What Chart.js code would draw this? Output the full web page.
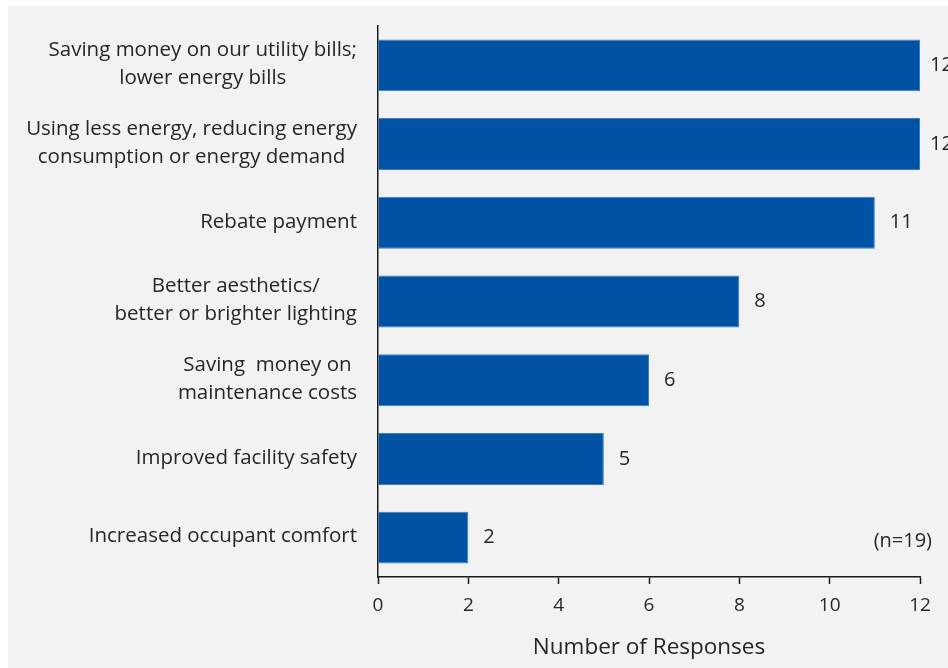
<!DOCTYPE html>
<html>
<head>
<meta charset="utf-8">
<script src="https://cdn.jsdelivr.net/npm/chart.js@4"></script>
<style>
    html, body { margin: 0; padding: 0; background: #ffffff; }
    #panel { position: absolute; left: 8px; top: 6px; right: 0; bottom: 0; background: #f2f2f2; }
    #wrap { position: absolute; left: 0; top: 0; width: 948px; height: 668px; }
</style>
</head>
<body>
<div id="panel"></div>
<div id="wrap"><canvas id="chart"></canvas></div>
<script>
const categories = [
    ['Saving money on our utility bills;', 'lower energy bills'],
    ['Using less energy, reducing energy', 'consumption or energy demand'],
    ['Rebate payment'],
    ['Better aesthetics/', 'better or brighter lighting'],
    ['Saving  money on', 'maintenance costs'],
    ['Improved facility safety'],
    ['Increased occupant comfort']
];
const responses = [12, 12, 11, 8, 6, 5, 2];
const xTicks = [0, 2, 4, 6, 8, 10, 12];
const sampleNote = '(n=19)';

const textColor = '#262626';
const fontFamily = '"Open Sans", "Liberation Sans", sans-serif';

// category labels: each line centred, the block right-aligned against the axis
const categoryLabels = {
    id: 'categoryLabels',
    afterDraw(chart) {
        const ctx = chart.ctx;
        const yScale = chart.scales.y;
        const right = chart.chartArea.left - 21;
        const lineH = 28;
        ctx.save();
        ctx.font = '20.5px ' + fontFamily;
        ctx.fillStyle = textColor;
        ctx.textAlign = 'center';
        ctx.textBaseline = 'middle';
        categories.forEach((lines, i) => {
            const widest = Math.max(...lines.map(l => ctx.measureText(l).width));
            const cx = right - widest / 2;
            const cy = yScale.getPixelForValue(i) - 1;
            const top = cy - (lines.length - 1) * lineH / 2;
            lines.forEach((l, j) => ctx.fillText(l, cx, top + j * lineH));
        });
        ctx.restore();
    }
};

// value at the end of each bar (pulled in near the right edge), plus the sample size note
const valueLabels = {
    id: 'valueLabels',
    afterDatasetsDraw(chart) {
        const ctx = chart.ctx;
        const meta = chart.getDatasetMeta(0);
        const maxX = chart.chartArea.right + 10;
        ctx.save();
        ctx.font = '20px ' + fontFamily;
        ctx.fillStyle = textColor;
        ctx.textAlign = 'left';
        ctx.textBaseline = 'middle';
        meta.data.forEach((bar, i) => {
            ctx.fillText(String(responses[i]), Math.min(bar.x + 15, maxX), bar.y);
        });
        ctx.textAlign = 'right';
        ctx.fillText(sampleNote, chart.chartArea.right + 12, chart.scales.y.getPixelForValue(6) + 4);
        ctx.restore();
    }
};

new Chart(document.getElementById('chart'), {
    type: 'bar',
    data: {
        labels: categories,
        datasets: [{
            data: responses,
            backgroundColor: '#0052a4',
            borderColor: '#3f7cc2',
            borderWidth: 1,
            barPercentage: 0.66,
            categoryPercentage: 1
        }]
    },
    options: {
        indexAxis: 'y',
        responsive: true,
        maintainAspectRatio: false,
        animation: false,
        layout: { padding: { top: 26, right: 28, left: 0, bottom: 0 } },
        plugins: {
            legend: { display: false },
            tooltip: { enabled: false }
        },
        scales: {
            x: {
                min: 0,
                max: 12,
                afterBuildTicks(scale) {
                    scale.ticks = xTicks.map(v => ({ value: v }));
                },
                afterFit(scale) { scale.height = 91; },
                grid: {
                    drawOnChartArea: false,
                    drawTicks: true,
                    tickLength: 7,
                    tickWidth: 1.5,
                    tickColor: '#1a1a1a'
                },
                border: { display: true, color: '#1a1a1a', width: 1.5 },
                ticks: {
                    color: textColor,
                    font: { family: fontFamily, size: 19 },
                    padding: 10
                },
                title: {
                    display: true,
                    text: 'Number of Responses',
                    color: textColor,
                    font: { family: fontFamily, size: 22.5 },
                    padding: { top: 10, bottom: 7 }
                }
            },
            y: {
                afterFit(scale) { scale.width = 378; },
                grid: { display: false },
                border: { display: true, color: '#1a1a1a', width: 1.5 },
                ticks: { display: false }
            }
        }
    },
    plugins: [categoryLabels, valueLabels]
});
</script>
</body>
</html>
